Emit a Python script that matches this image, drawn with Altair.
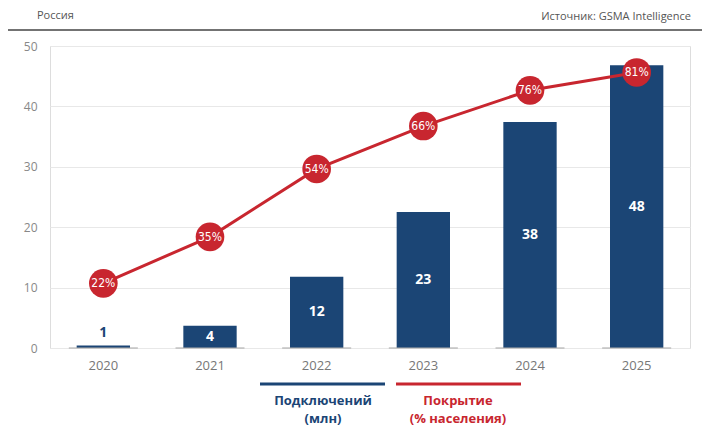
import altair as alt
import pandas as pd

years = ["2020", "2021", "2022", "2023", "2024", "2025"]
connections = [0.4, 3.7, 11.8, 22.5, 37.4, 46.8]
conn_labels = ["1", "4", "12", "23", "38", "48"]
coverage = [22, 35, 54, 66, 76, 81]
coverage_labels = ["22%", "35%", "54%", "66%", "76%", "81%"]

BLUE = "#1b4575"
RED = "#c8262f"
FONT = "Open Sans"
NARROW = "DejaVu Sans Condensed, Liberation Sans Narrow, Roboto, sans-serif"

df = pd.DataFrame({
    "year": years,
    "conn": connections,
    "conn_label": conn_labels,
    "cov": coverage,
    "cov_label": coverage_labels,
})

xenc = alt.X("year:N", sort=years,
             scale=alt.Scale(paddingInner=0.5, paddingOuter=0.25),
             axis=alt.Axis(title=None, labelAngle=0, domain=False, ticks=False,
                           labelPadding=11, labelFontSize=13, labelColor="#777777",
                           labelFont=FONT))
yenc = alt.Y("conn:Q", scale=alt.Scale(domain=[0, 50]),
             axis=alt.Axis(title=None, values=[0, 10, 20, 30, 40, 50], domain=False,
                           ticks=False, labelPadding=13, labelFontSize=12,
                           labelColor="#888888", labelFont=FONT,
                           gridColor="#e8e8e8", gridWidth=1))

base = alt.Chart(df)

bars = base.mark_bar(color=BLUE).encode(x=xenc, y=yenc)

baseline = base.mark_tick(color="#aaaaaa", size=69, thickness=1.5).encode(
    x=alt.X("year:N", sort=years), y=alt.datum(0))

inner = base.transform_filter("datum.conn >= 2").transform_calculate(
    half="datum.conn / 2").mark_text(
    color="white", fontSize=14, fontWeight="bold", font=FONT).encode(
    x=alt.X("year:N", sort=years), y=alt.Y("half:Q"), text="conn_label:N")

outer = base.transform_filter("datum.conn < 2").mark_text(
    color=BLUE, fontSize=14, fontWeight="bold", font=FONT, dy=-13).encode(
    x=alt.X("year:N", sort=years), y=alt.Y("conn:Q"), text="conn_label:N")

left = alt.layer(bars, baseline, inner, outer)

cov_y = alt.Y("cov:Q", scale=alt.Scale(domain=[3.9, 88.4]), axis=None)
line = base.mark_line(color=RED, strokeWidth=3).encode(
    x=alt.X("year:N", sort=years), y=cov_y)
dots = base.mark_circle(color=RED, size=820, opacity=1).encode(
    x=alt.X("year:N", sort=years), y=cov_y)
dot_text = base.mark_text(color="white", fontSize=12, font=NARROW).encode(
    x=alt.X("year:N", sort=years), y=cov_y, text="cov_label:N")
right = alt.layer(line, dots, dot_text)

# header & legend decorations
one = alt.Chart(pd.DataFrame({"a": [0]}))
header_left = one.mark_text(align="left", fontSize=11, color="#555555", font=FONT,
                            baseline="middle").encode(
    x=alt.value(-13), y=alt.value(-30), text=alt.value("Россия"))
header_right = one.mark_text(align="right", fontSize=11, color="#555555", font=FONT,
                             baseline="middle").encode(
    x=alt.value(641), y=alt.value(-29), text=alt.value("Источник: GSMA Intelligence"))
header_rule = one.mark_rule(color="#444444", strokeWidth=1.5).encode(
    x=alt.value(-42), x2=alt.value(652), y=alt.value(-16))

leg_blue = one.mark_rule(color=BLUE, strokeWidth=3).encode(
    x=alt.value(210), x2=alt.value(335), y=alt.value(338))
leg_red = one.mark_rule(color=RED, strokeWidth=3).encode(
    x=alt.value(346), x2=alt.value(471), y=alt.value(338))


def leg_text(txt, x, y, color):
    return one.mark_text(fontSize=13, fontWeight="bold", color=color, font=FONT,
                         baseline="middle").encode(
        x=alt.value(x), y=alt.value(y), text=alt.value(txt))


deco = alt.layer(header_left, header_right, header_rule, leg_blue, leg_red,
                 leg_text("Подключений", 273, 355, BLUE),
                 leg_text("(млн)", 273, 373, BLUE),
                 leg_text("Покрытие", 408, 355, RED),
                 leg_text("(% населения)", 408, 373, RED))

chart = alt.layer(left, right, deco).resolve_scale(y="independent").properties(
    width=640, height=302,
    autosize=alt.AutoSizeParams(type="none"),
    padding={"left": 42, "top": 38, "right": 22, "bottom": 84},
).configure_view(stroke=None).configure(background="white")

chart.save("out.html", embed_options={"renderer": "svg", "actions": False})
